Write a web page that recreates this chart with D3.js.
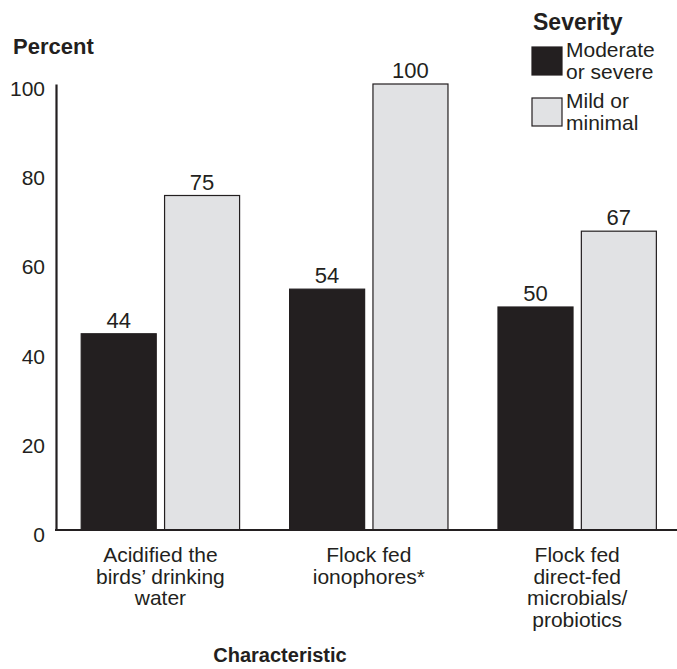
<!DOCTYPE html>
<html><head><meta charset="utf-8">
<script src="https://cdn.jsdelivr.net/npm/d3@7"></script>
<style>body{margin:0;background:#fff}svg{display:block}text{font-family:"Liberation Sans",Arial,Helvetica,sans-serif;fill:#231f20}</style>
</head><body><svg id="c" width="677" height="669"></svg>
<script>
const categories = [["Acidified the","birds’ drinking","water"],["Flock fed","ionophores*"],["Flock fed","direct-fed","microbials/","probiotics"]];
const categoryKeys = ["acid","iono","dfm"];
const seriesNames = ["Moderate or severe","Mild or minimal"];
const moderateSevere = [44,54,50];
const mildMinimal = [75,100,67];
const yTicks = [0,20,40,60,80,100];
const seriesColors = ["#231f20","#e1e2e4"];

const svg = d3.select("#c");
const ink = "#231f20";
const x0 = d3.scaleBand().domain(categoryKeys).range([56,677]).paddingInner(0.24).paddingOuter(0.11).align(0.55);
const x1 = d3.scaleBand().domain([0,1]).range([0,x0.bandwidth()]).paddingInner(0.1);
const y = d3.scaleLinear().domain([0,100]).range([530,84]);

const data = categoryKeys.map((k,i)=>({k, vals:[moderateSevere[i], mildMinimal[i]]}));

const g = svg.append("g");
const grp = g.selectAll("g.grp").data(data).join("g").attr("transform",d=>`translate(${x0(d.k)},0)`);
grp.selectAll("rect").data(d=>d.vals.map((v,j)=>({v,j}))).join("rect")
  .attr("x",d=>x1(d.j)).attr("width",x1.bandwidth())
  .attr("y",d=>y(d.v)).attr("height",d=>y(0)-y(d.v))
  .attr("fill",d=>seriesColors[d.j]).attr("stroke",ink).attr("stroke-width",1.2);
grp.selectAll("text.val").data(d=>d.vals.map((v,j)=>({v,j}))).join("text").attr("class","val")
  .attr("x",d=>x1(d.j)+x1.bandwidth()/2).attr("y",d=>y(d.v)-6)
  .attr("text-anchor","middle").attr("font-size",22).text(d=>d.v);

// y axis
const ya = d3.axisLeft(y).tickValues(yTicks).tickSize(0).tickPadding(11);
const yg = svg.append("g").attr("transform","translate(56,0)").call(ya);
yg.attr("font-family",null);
yg.select(".domain").attr("stroke",ink).attr("stroke-width",2.2);
yg.selectAll("text").attr("font-size",21).attr("dy","0.55em").attr("fill",ink);

// x axis
const xa = d3.axisBottom(x0).tickSize(0).tickFormat("");
const xg = svg.append("g").attr("transform","translate(0,530)").call(xa);
xg.select(".domain").attr("d","M55,0H677").attr("stroke",ink).attr("stroke-width",2.2);
categoryKeys.forEach((k,i)=>{
  const cx = x0(k)+x0.bandwidth()/2;
  const t = svg.append("text").attr("text-anchor","middle").attr("font-size",21)
    .attr("x",cx).attr("y",562);
  categories[i].forEach((line,li)=>t.append("tspan").attr("x",cx).attr("dy",li?21.5:0).text(line));
});

svg.append("text").attr("x",13).attr("y",54).attr("font-size",22).attr("font-weight","bold").text("Percent");
svg.append("text").attr("x",280).attr("y",662).attr("text-anchor","middle").attr("font-size",20).attr("font-weight","bold").text("Characteristic");

// legend
svg.append("text").attr("x",533).attr("y",30).attr("font-size",23).attr("font-weight","bold").text("Severity");
const legLines = [["Moderate","or severe"],["Mild or","minimal"]];
const legTop = [47,98];
seriesNames.forEach((s,i)=>{
  svg.append("rect").attr("x",532).attr("y",legTop[i]).attr("width",30).attr("height",28)
    .attr("fill",seriesColors[i]).attr("stroke",ink).attr("stroke-width",1.2);
  const t = svg.append("text").attr("font-size",21).attr("x",566).attr("y",legTop[i]+10);
  legLines[i].forEach((l,li)=>t.append("tspan").attr("x",566).attr("dy",li?21.5:0).text(l));
});
</script></body></html>
